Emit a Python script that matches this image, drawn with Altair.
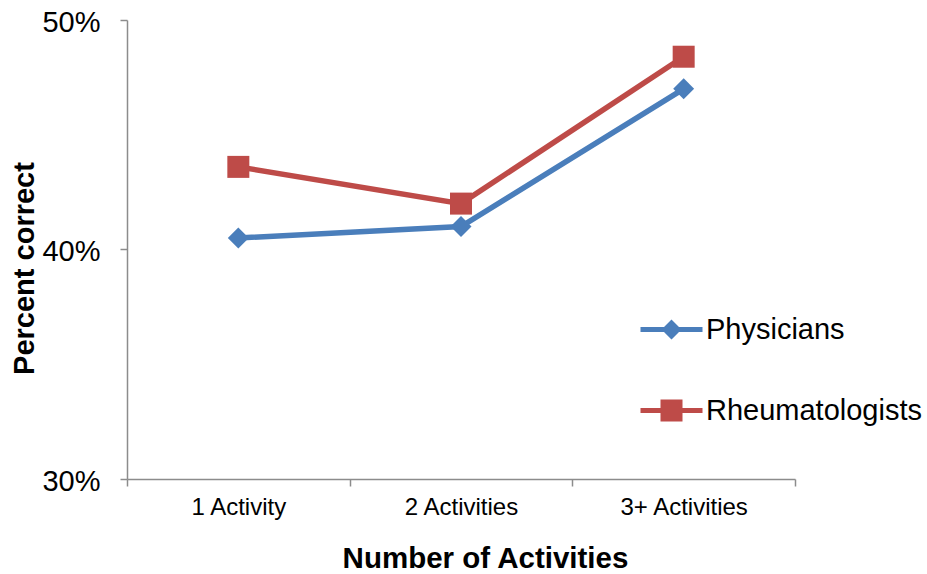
import altair as alt
import pandas as pd

# Share of correct answers by number of activities
categories = ["1 Activity", "2 Activities", "3+ Activities"]
physicians = [0.405, 0.410, 0.470]
rheumatologists = [0.436, 0.420, 0.484]

series_names = ["Physicians", "Rheumatologists"]
series_colors = ["#4A7EBB", "#BE4B48"]
series_markers = ["diamond", "square"]
marker_sizes = [440, 484]

rows = []
for name, values in zip(series_names, [physicians, rheumatologists]):
    for cat, v in zip(categories, values):
        rows.append({"Activities": cat, "Percent": v, "Series": name})
df = pd.DataFrame(rows)

FONT = "Liberation Sans"
AXIS_GRAY = "#8C8C8C"

# Legend glyphs: a short line segment with the series marker on top (pixel units at size 4)
legend_diamond = ("M-31,-2.5L-7.5,-2.5L0,-10L7.5,-2.5L31,-2.5L31,2.5L7.5,2.5"
                  "L0,10L-7.5,2.5L-31,2.5Z")
legend_square = ("M-31,-2.5L-11,-2.5L-11,-11L11,-11L11,-2.5L31,-2.5L31,2.5"
                 "L11,2.5L11,11L-11,11L-11,2.5L-31,2.5Z")

x_enc = alt.X(
    "Activities:N",
    sort=categories,
    scale=alt.Scale(type="band", domain=categories, paddingInner=0, paddingOuter=0),
    bandPosition=0.5,
    axis=alt.Axis(
        title="Number of Activities",
        tickBand="extent",
        labelAngle=0,
        labelFont=FONT,
        labelFontSize=24,
        labelColor="#000000",
        labelPadding=9,
        tickSize=7,
        tickColor=AXIS_GRAY,
        tickWidth=1.5,
        domainColor=AXIS_GRAY,
        domainWidth=1.5,
        titleFont=FONT,
        titleFontSize=29.5,
        titleFontWeight="bold",
        titleColor="#000000",
        titleX=358,
        titleY=88,
        titleAlign="center",
        titleBaseline="alphabetic",
        grid=False,
    ),
)

y_enc = alt.Y(
    "Percent:Q",
    scale=alt.Scale(domain=[0.30, 0.50], nice=False, zero=False),
    axis=alt.Axis(
        title="Percent correct",
        values=[0.30, 0.40, 0.50],
        format=".0%",
        labelFont=FONT,
        labelFontSize=29,
        labelColor="#000000",
        labelPadding=20,
        labelBaseline="middle",
        labelOffset=2,
        tickSize=7,
        tickColor=AXIS_GRAY,
        tickWidth=1.5,
        domainColor=AXIS_GRAY,
        domainWidth=1.5,
        titleFont=FONT,
        titleFontSize=29,
        titleFontWeight="bold",
        titleColor="#000000",
        titleAngle=-90,
        titleX=-94,
        titleY=248,
        titleAlign="center",
        titleBaseline="alphabetic",
        grid=False,
    ),
)

layers = []
for name, color, marker, msize in zip(series_names, series_colors, series_markers, marker_sizes):
    base = alt.Chart(df).transform_filter(alt.datum.Series == name)
    layers.append(base.mark_line(strokeWidth=5.5, color=color).encode(x=x_enc, y=y_enc))
    layers.append(
        base.mark_point(shape=marker, filled=True, size=msize, opacity=1, color=color)
        .encode(x=x_enc, y=y_enc)
    )

legend_def = alt.Legend(
    title=None,
    orient="none",
    legendX=530,
    legendY=295,
    padding=0,
    symbolSize=4,
    labelFont=FONT,
    labelFontSize=29,
    labelColor="#000000",
    labelOffset=20,
    labelLimit=400,
    rowPadding=51,
    values=series_names,
)

# Draws no marks; only supplies the legend with line-and-marker symbols
legend_layer = alt.Chart(df).transform_filter("false").mark_point(
    filled=True, size=4, opacity=1
).encode(
    x=x_enc,
    y=y_enc,
    color=alt.Color(
        "Series:N",
        scale=alt.Scale(domain=series_names, range=series_colors),
        legend=legend_def,
    ),
    shape=alt.Shape(
        "Series:N",
        scale=alt.Scale(domain=series_names, range=[legend_diamond, legend_square]),
        legend=legend_def,
    ),
)

chart = alt.layer(*layers, legend_layer).properties(
    width=668,
    height=459,
    autosize=alt.AutoSizeParams(type="none"),
    padding={"left": 127, "top": 20, "right": 132, "bottom": 95},
).configure(background="white").configure_view(stroke=None)

chart.save("out.html", embed_options={"renderer": "svg", "actions": False})
